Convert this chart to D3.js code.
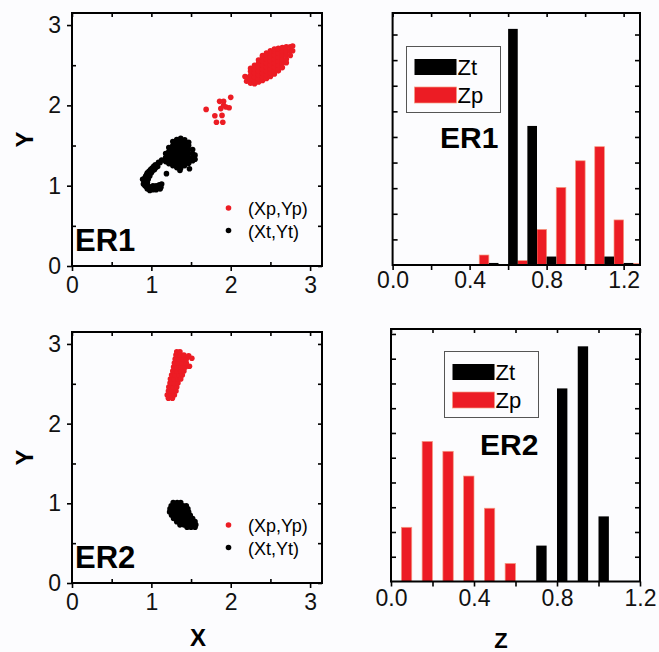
<!DOCTYPE html>
<html>
<head>
<meta charset="utf-8">
<title>ER1 / ER2 scatter and Z histograms</title>
<script src="https://cdnjs.cloudflare.com/ajax/libs/d3/7.8.5/d3.min.js"></script>
<style>
  body { margin: 0; background: #fcfcfe; }
  svg { display: block; font-family: "Liberation Sans", Arial, sans-serif; }
  .tick text { font-size: 23px; fill: #111; }
  .tick line { stroke: #000; stroke-width: 1.6; }
</style>
</head>
<body>
<svg id="chart" width="659" height="652"></svg>
<script>
// ---- data ----
// ER1, predicted points (Xp, Yp)
var er1Pred = [
  [2.18,2.36],[2.20,2.30],[2.20,2.35],
  [2.25,2.275],[2.25,2.325],[2.25,2.375],[2.25,2.425],[2.25,2.46],
  [2.30,2.27],[2.30,2.30],[2.30,2.35],[2.30,2.40],[2.30,2.45],[2.30,2.50],
  [2.35,2.29],[2.35,2.325],[2.35,2.375],[2.35,2.425],[2.35,2.475],[2.35,2.525],[2.35,2.565],
  [2.40,2.31],[2.40,2.35],[2.40,2.40],[2.40,2.45],[2.40,2.50],[2.40,2.55],[2.40,2.60],[2.40,2.62],
  [2.45,2.335],[2.45,2.375],[2.45,2.425],[2.45,2.475],[2.45,2.525],[2.45,2.575],[2.45,2.625],[2.45,2.65],
  [2.50,2.36],[2.50,2.40],[2.50,2.45],[2.50,2.50],[2.50,2.55],[2.50,2.60],[2.50,2.65],[2.50,2.68],
  [2.55,2.39],[2.55,2.425],[2.55,2.475],[2.55,2.525],[2.55,2.575],[2.55,2.625],[2.55,2.675],[2.55,2.70],
  [2.60,2.43],[2.60,2.45],[2.60,2.50],[2.60,2.55],[2.60,2.60],[2.60,2.65],[2.60,2.70],[2.60,2.71],
  [2.65,2.47],[2.65,2.525],[2.65,2.575],[2.65,2.625],[2.65,2.675],[2.65,2.72],
  [2.70,2.53],[2.70,2.575],[2.70,2.625],[2.70,2.675],[2.70,2.73],
  [2.75,2.62],[2.75,2.675],[2.75,2.73],[2.78,2.68],[2.78,2.74],
  // loose points below the main cloud
  [1.69,1.95],[1.80,1.87],[1.82,1.79],[1.90,1.79],[1.89,1.875],[1.875,1.96],
  [1.91,2.00],[1.86,2.05],[1.94,1.98],[1.98,1.97],[2.00,2.10],[1.91,2.05]
];
// ER1, true points (Xt, Yt)
var er1True = [
  [1.18,1.30],[1.18,1.35],[1.18,1.40],
  [1.22,1.275],[1.22,1.325],[1.22,1.375],[1.22,1.425],[1.22,1.475],
  [1.27,1.25],[1.27,1.30],[1.27,1.35],[1.27,1.40],[1.27,1.45],[1.27,1.50],[1.27,1.55],
  [1.32,1.225],[1.32,1.275],[1.32,1.325],[1.32,1.375],[1.32,1.425],[1.32,1.475],[1.32,1.525],[1.32,1.575],
  [1.37,1.22],[1.37,1.25],[1.37,1.30],[1.37,1.35],[1.37,1.40],[1.37,1.45],[1.37,1.50],[1.37,1.55],[1.37,1.59],
  [1.42,1.25],[1.42,1.275],[1.42,1.325],[1.42,1.375],[1.42,1.425],[1.42,1.475],[1.42,1.525],[1.42,1.57],
  [1.47,1.28],[1.47,1.30],[1.47,1.35],[1.47,1.40],[1.47,1.45],[1.47,1.50],[1.47,1.54],
  [1.52,1.31],[1.52,1.35],[1.52,1.40],[1.52,1.45],[1.55,1.33],[1.55,1.38],
  [1.36,1.19],[1.48,1.21],[1.19,1.15],
  // C-shaped tail
  [1.13,1.32],[1.09,1.29],[1.11,1.29],[1.05,1.26],[1.08,1.24],[1.06,1.23],[1.03,1.24],[1.01,1.22],
  [1.04,1.20],[0.99,1.20],[0.97,1.18],[1.01,1.18],[1.00,1.16],[0.95,1.16],[0.94,1.14],[0.97,1.14],
  [0.98,1.12],[0.93,1.12],[0.92,1.10],[0.96,1.08],[0.89,1.08],[0.93,1.07],[0.91,1.05],[0.95,1.04],
  [0.90,1.02],[0.94,1.02],[0.92,1.00],[0.97,0.99],[0.94,0.98],[0.95,0.96],[0.98,0.94],[1.00,0.96],
  [1.02,0.95],[1.04,0.97],[1.06,0.95],[1.08,0.97],[1.11,0.96],[1.12,0.98],[1.13,1.02],[1.10,1.01],
  [1.02,1.00],[1.06,1.00]
];
// ER2, predicted points
var er2Pred = [
  [1.215,2.32],[1.265,2.32],
  [1.20,2.36],[1.25,2.36],[1.29,2.36],
  [1.215,2.41],[1.265,2.41],[1.31,2.41],
  [1.22,2.46],[1.27,2.46],[1.32,2.46],
  [1.235,2.51],[1.285,2.51],[1.335,2.51],
  [1.24,2.56],[1.29,2.56],[1.34,2.56],[1.37,2.56],
  [1.255,2.61],[1.305,2.61],[1.355,2.61],[1.39,2.61],
  [1.27,2.66],[1.32,2.66],[1.37,2.66],[1.41,2.66],
  [1.28,2.71],[1.33,2.71],[1.38,2.71],[1.43,2.71],[1.48,2.72],
  [1.29,2.76],[1.34,2.76],[1.39,2.76],[1.44,2.76],
  [1.30,2.81],[1.35,2.81],[1.40,2.81],[1.44,2.81],[1.51,2.82],
  [1.31,2.86],[1.36,2.86],[1.41,2.86],[1.47,2.85],
  [1.32,2.90],[1.36,2.90]
];
// ER2, true points
var er2True = [
  [1.275,1.01],[1.325,1.01],[1.37,1.01],
  [1.25,0.97],[1.30,0.97],[1.35,0.97],[1.40,0.97],[1.44,0.97],
  [1.235,0.93],[1.285,0.93],[1.335,0.93],[1.385,0.93],[1.435,0.93],[1.46,0.93],
  [1.23,0.89],[1.28,0.89],[1.33,0.89],[1.38,0.89],[1.43,0.89],[1.47,0.89],
  [1.255,0.85],[1.305,0.85],[1.355,0.85],[1.405,0.85],[1.455,0.85],[1.49,0.85],
  [1.28,0.81],[1.33,0.81],[1.38,0.81],[1.43,0.81],[1.48,0.81],[1.52,0.81],
  [1.32,0.77],[1.37,0.77],[1.42,0.77],[1.47,0.77],[1.52,0.77],[1.55,0.77],
  [1.36,0.73],[1.41,0.73],[1.46,0.73],[1.51,0.73],[1.56,0.73],
  [1.45,0.70],[1.50,0.70],[1.55,0.70]
];

// histogram bins (centre of each group) and heights, in tick units
var er1Bins = [0.5, 0.6, 0.7, 0.8, 0.9, 1.0, 1.1, 1.2, 1.3];
var er1Zt   = [0.08, 9.22, 5.43, 0.33, 0, 0, 0.33, 0.08, 0];
var er1Zp   = [0.39, 0, 0.17, 1.39, 3.03, 4.07, 4.62, 1.76, 0.06];

var er2Bins = [0.1, 0.2, 0.3, 0.4, 0.5, 0.6, 0.7, 0.8, 0.9, 1.0];
var er2Zt   = [0, 0, 0, 0, 0, 0, 1.45, 7.8, 9.5, 2.63];
var er2Zp   = [2.19, 5.66, 5.26, 4.26, 2.96, 0.73, 0, 0, 0, 0];

var scatterTicks = [0, 1, 2, 3];
var scatterMinor = [0.5, 1.5, 2.5];
var histTicks = [0, 0.2, 0.4, 0.6, 0.8, 1.0, 1.2];
var histLabels = [0, 0.4, 0.8, 1.2];

var RED = "#ec1c24";

var svg = d3.select("#chart");

function cleanAxis(sel) {
  sel.select(".domain").remove();
}

function scatterPanel(yTop, yBottom, pred, truth, name) {
  var x = d3.scaleLinear().domain([0, 3.15]).range([72, 322]);
  var y = d3.scaleLinear().domain([0, 3.15]).range([yBottom, yTop]);
  var g = svg.append("g");

  g.selectAll("circle.pred").data(pred).enter().append("circle")
    .attr("cx", d => x(d[0])).attr("cy", d => y(d[1])).attr("r", 2.8).attr("fill", RED);
  g.selectAll("circle.true").data(truth).enter().append("circle")
    .attr("cx", d => x(d[0])).attr("cy", d => y(d[1])).attr("r", 2.8).attr("fill", "#000");

  // axes: major ticks out, minor in, mirrored ticks in
  g.append("g").attr("transform", "translate(0," + yBottom + ")")
    .call(d3.axisBottom(x).tickValues(scatterTicks).tickSize(5).tickPadding(6).tickFormat(d3.format("d")))
    .call(cleanAxis);
  g.append("g").attr("transform", "translate(0," + yBottom + ")")
    .call(d3.axisBottom(x).tickValues(scatterMinor).tickSize(-4).tickFormat(""))
    .call(cleanAxis);
  g.append("g").attr("transform", "translate(0," + yTop + ")")
    .call(d3.axisTop(x).tickValues(scatterTicks.concat(scatterMinor)).tickSize(-4).tickFormat(""))
    .call(cleanAxis);
  g.append("g").attr("transform", "translate(72,0)")
    .call(d3.axisLeft(y).tickValues(scatterTicks).tickSize(5).tickPadding(6).tickFormat(d3.format("d")))
    .call(cleanAxis);
  g.append("g").attr("transform", "translate(72,0)")
    .call(d3.axisLeft(y).tickValues(scatterMinor).tickSize(-4).tickFormat(""))
    .call(cleanAxis);
  g.append("g").attr("transform", "translate(322,0)")
    .call(d3.axisRight(y).tickValues(scatterTicks.concat(scatterMinor)).tickSize(-4).tickFormat(""))
    .call(cleanAxis);

  g.append("rect").attr("x", 72).attr("y", yTop).attr("width", 250).attr("height", yBottom - yTop)
    .attr("fill", "none").attr("stroke", "#000").attr("stroke-width", 2);

  // legend
  var ly = yBottom - 58;
  g.append("circle").attr("cx", 228.5).attr("cy", ly).attr("r", 2.8).attr("fill", RED);
  g.append("text").attr("x", 248).attr("y", ly + 7).attr("font-size", 18).text("(Xp,Yp)");
  g.append("circle").attr("cx", 228.5).attr("cy", ly + 22.5).attr("r", 2.8).attr("fill", "#000");
  g.append("text").attr("x", 248).attr("y", ly + 29.5).attr("font-size", 18).text("(Xt,Yt)");

  g.append("text").attr("x", 75).attr("y", yBottom - 15).attr("font-size", 31)
    .attr("font-weight", "bold").text(name);

  g.append("text").attr("transform", "translate(33," + ((yTop + yBottom) / 2) + ") rotate(-90)")
    .attr("text-anchor", "middle").attr("font-size", 24).attr("font-weight", "bold").text("Y");
}

function histPanel(x0, x1, zMax, yTop, yBottom, yMax, bins, zt, zp, name, leg, pad) {
  var x = d3.scaleLinear().domain([0, zMax]).range([x0, x1]);
  var y = d3.scaleLinear().domain([0, yMax]).range([yBottom, yTop]);
  var g = svg.append("g");
  var clipId = "clip" + name;
  g.append("clipPath").attr("id", clipId).append("rect")
    .attr("x", x0).attr("y", yTop).attr("width", x1 - x0).attr("height", yBottom - yTop);

  var bars = g.append("g").attr("clip-path", "url(#" + clipId + ")");
  bars.selectAll("rect.zp").data(bins).enter().append("rect")
    .attr("x", d => x(d - 0.05)).attr("width", d => x(d) - x(d - 0.05))
    .attr("y", (d, i) => y(zp[i])).attr("height", (d, i) => y(0) - y(zp[i]))
    .attr("fill", RED).attr("stroke", "#f59a82").attr("stroke-width", 0.7);
  bars.selectAll("rect.zt").data(bins).enter().append("rect")
    .attr("x", d => x(d)).attr("width", d => x(d + 0.05) - x(d))
    .attr("y", (d, i) => y(zt[i])).attr("height", (d, i) => y(0) - y(zt[i]))
    .attr("fill", "#000");

  var yt = d3.range(1, Math.floor(yMax) + 1);
  g.append("g").attr("transform", "translate(0," + yBottom + ")")
    .call(d3.axisBottom(x).tickValues(histTicks).tickSize(5).tickPadding(pad)
      .tickFormat(d => histLabels.some(v => Math.abs(v - d) < 1e-9) ? d3.format(".1f")(d) : ""))
    .call(cleanAxis);
  g.append("g").attr("transform", "translate(0," + yTop + ")")
    .call(d3.axisTop(x).tickValues(histTicks).tickSize(-4).tickFormat(""))
    .call(cleanAxis);
  g.append("g").attr("transform", "translate(" + x0 + ",0)")
    .call(d3.axisLeft(y).tickValues(yt).tickSize(-5).tickFormat(""))
    .call(cleanAxis);
  g.append("g").attr("transform", "translate(" + x1 + ",0)")
    .call(d3.axisRight(y).tickValues(yt).tickSize(-5).tickFormat(""))
    .call(cleanAxis);

  g.append("rect").attr("x", x0).attr("y", yTop).attr("width", x1 - x0).attr("height", yBottom - yTop)
    .attr("fill", "none").attr("stroke", "#000").attr("stroke-width", 2);

  // legend box
  g.append("rect").attr("x", leg.x).attr("y", leg.y).attr("width", 94).attr("height", 66)
    .attr("fill", "none").attr("stroke", "#555").attr("stroke-width", 1);
  g.append("rect").attr("x", leg.x + 8).attr("y", leg.y + 12.5).attr("width", 42).attr("height", 16)
    .attr("fill", "#000");
  g.append("text").attr("x", leg.x + 51).attr("y", leg.y + 28.5).attr("font-size", 22).text("Zt");
  g.append("rect").attr("x", leg.x + 8).attr("y", leg.y + 40.5).attr("width", 42).attr("height", 16)
    .attr("fill", RED).attr("stroke", "#f59a82").attr("stroke-width", 0.7);
  g.append("text").attr("x", leg.x + 51).attr("y", leg.y + 56.5).attr("font-size", 22).text("Zp");

  g.append("text").attr("x", leg.tx).attr("y", leg.ty).attr("font-size", 30)
    .attr("font-weight", "bold").text(name);
}

scatterPanel(13, 266, er1Pred, er1True, "ER1");
scatterPanel(332, 583, er2Pred, er2True, "ER2");

histPanel(392.6, 640, 1.285, 13, 265, 9.84, er1Bins, er1Zt, er1Zp, "ER1",
  { x: 406.5, y: 46.5, tx: 440, ty: 148 }, 2);
histPanel(391, 640, 1.2, 329, 581.5, 10.2, er2Bins, er2Zt, er2Zp, "ER2",
  { x: 444.5, y: 351.5, tx: 480, ty: 455 }, 3);

svg.append("text").attr("x", 198).attr("y", 646).attr("text-anchor", "middle")
  .attr("font-size", 24).attr("font-weight", "bold").text("X");
svg.append("text").attr("x", 501).attr("y", 648).attr("text-anchor", "middle")
  .attr("font-size", 22).attr("font-weight", "bold").text("Z");
</script>
</body>
</html>
